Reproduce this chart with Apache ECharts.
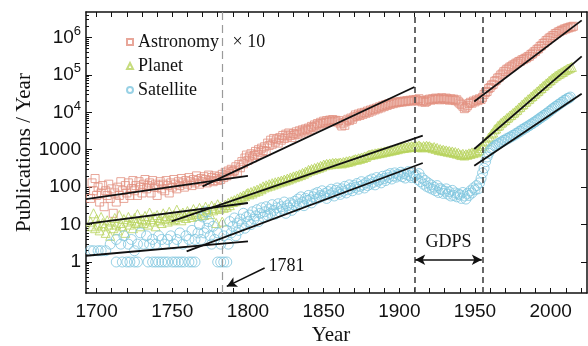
<!DOCTYPE html>
<html>
<head>
<meta charset="utf-8">
<script src="https://cdn.jsdelivr.net/npm/echarts@6/dist/echarts.min.js"></script>
<style>
  html, body { margin: 0; padding: 0; background: #fff; }
  #chart { width: 588px; height: 346px; }
</style>
</head>
<body>
<div id="chart"></div>
<script>
// yearly counts (Astronomy already multiplied by 10)
const astroStart = 1696;
const astroValues = [
  50, 130, 80, 170, 60, 100, 40, 70, 110, 30,
  80, 60, 120, 50, 90, 20, 70, 40, 100, 60,
  140, 80, 50, 110, 70, 130, 60, 90, 150, 80,
  110, 60, 140, 100, 70, 120, 160, 90, 110, 130,
  70, 150, 100, 120, 60, 110, 140, 90, 120, 80,
  150, 110, 70, 130, 100, 160, 120, 90, 140, 110,
  170, 130, 100, 150, 120, 180, 140, 110, 160, 130,
  200, 150, 120, 170, 140, 190, 160, 130, 210, 150,
  180, 140, 200, 170, 150, 190, 160, 220, 180, 250,
  200, 270, 230, 300, 260, 280, 350, 250, 400, 330,
  480, 420, 600, 720, 520, 650, 780, 600, 700, 900,
  750, 1000, 850, 1100, 950, 1200, 900, 1500, 1300, 1800,
  1400, 2000, 1600, 1900, 1500, 2100, 1800, 2400, 2000, 2600,
  2200, 2800, 2400, 2100, 2700, 2500, 3000, 2600, 3200, 2800,
  3400, 3000, 3600, 3300, 3800, 3500, 4200, 3900, 4600, 4300,
  5000, 4600, 5400, 5000, 5800, 5300, 6000, 5500, 6200, 5600,
  6400, 5800, 6100, 5500, 6000, 4900, 4300, 5200, 4500, 5800,
  6500, 6000, 7000, 6500, 7500, 8500, 7800, 9000, 8200, 9600,
  8800, 10000, 9400, 10800, 10000, 11500, 10800, 12200, 11600, 13000,
  12400, 14000, 13200, 15000, 14200, 16000, 15200, 17000, 16200, 18000,
  17000, 18500, 17800, 19000, 18500, 19500, 18800, 20000, 19200, 20500,
  19800, 21000, 20000, 21500, 20500, 22000, 20000, 23000, 21000, 19000,
  20500, 18500, 19500, 21500, 22500, 21000, 23000, 22000, 24000, 22500,
  23500, 21500, 24500, 23000, 22000, 24000, 22500, 21000, 23000, 21500,
  22500, 20500, 21500, 19000, 17500, 16000, 14500, 12500, 13500, 15000,
  17000, 18500, 17500, 20000, 19000, 21500, 20500, 23000, 22000, 25000,
  30000, 34000, 36000, 43000, 46000, 53000, 56000, 67000, 71000, 82000,
  86000, 99000, 106000, 121000, 126000, 141000, 145000, 161000, 165000, 182000,
  186000, 205000, 208000, 228000, 230000, 252000, 255000, 276000, 282000, 306000,
  315000, 352000, 365000, 410000, 425000, 480000, 500000, 575000, 600000, 685000,
  715000, 820000, 850000, 960000, 990000, 1100000, 1130000, 1260000, 1280000, 1400000,
  1430000, 1550000, 1560000, 1680000, 1690000, 1790000, 1800000, 1900000, 1900000, 1990000
];

const planetStart = 1696;
const planetValues = [
  12, 9, 20, 8, 14, 10, 7, 16, 11, 9,
  6, 13, 10, 5, 12, 8, 15, 10, 7, 18,
  11, 9, 14, 6, 12, 16, 10, 13, 8, 15,
  11, 19, 12, 9, 14, 11, 17, 13, 10, 21,
  14, 12, 16, 9, 18, 13, 15, 11, 20, 14,
  17, 12, 22, 15, 13, 18, 14, 25, 16, 19,
  13, 21, 17, 15, 23, 18, 20, 16, 26, 19,
  22, 17, 28, 20, 24, 18, 30, 22, 26, 19,
  32, 24, 28, 11, 35, 26, 30, 12, 28, 34,
  30, 38, 33, 42, 40, 45, 42, 50, 46, 55,
  52, 60, 57, 66, 70, 64, 74, 68, 80, 75,
  86, 80, 94, 88, 105, 98, 112, 104, 120, 110,
  128, 118, 135, 125, 142, 134, 150, 142, 160, 150,
  170, 160, 182, 172, 194, 185, 205, 196, 220, 210,
  240, 228, 260, 250, 290, 275, 305, 290, 325, 310,
  345, 330, 370, 355, 400, 385, 420, 400, 430, 410,
  445, 425, 450, 430, 440, 455, 430, 470, 450, 490,
  470, 510, 490, 520, 540, 560, 540, 590, 570, 620,
  600, 660, 640, 700, 740, 720, 770, 750, 800, 780,
  830, 810, 860, 840, 900, 880, 930, 910, 970, 950,
  1010, 990, 1050, 1030, 1120, 1080, 1150, 1110, 1180, 1140,
  1210, 1170, 1240, 1200, 1230, 1260, 1180, 1300, 1220, 1150,
  1250, 1190, 1280, 1210, 1240, 1150, 1100, 1180, 1050, 1120,
  980, 1040, 950, 1000, 920, 960, 880, 930, 850, 900,
  820, 870, 780, 830, 750, 720, 780, 700, 760, 730,
  800, 770, 850, 810, 880, 850, 930, 980, 1100, 1250,
  1400, 1650, 1750, 2100, 2250, 2700, 2900, 3500, 3700, 4300,
  4500, 5100, 5400, 6000, 6200, 7000, 7300, 8200, 8500, 9500,
  9900, 11200, 11700, 13400, 14000, 15900, 16500, 18800, 19500, 22200,
  23000, 26000, 27200, 30500, 32000, 36000, 37700, 42800, 44500, 50300,
  52500, 59000, 61500, 69500, 72500, 81000, 84500, 93000, 96500, 105000,
  108000, 117000, 120000, 131000, 135000, 146000, 148000, 157000, 163000
];

const satStart = 1696;
const satValues = [
  2, null, 2, null, null, 2, null, 2, null, null,
  2, null, null, 3, null, null, null, 1, null, null,
  null, 1, null, null, 1, null, 1, null, null, 1,
  null, 1, null, null, null, 3, null, null, 1, null,
  null, 1, null, 1, null, 1, null, 1, null, 1,
  null, 1, null, null, 1, null, 1, null, 1, null,
  1, null, 1, null, null, 1, null, 1, null, 1,
  null, 6, 10, 4, 16, 6, 22, 8, 12, 5,
  3, 9, 4, null, 1, null, 1, null, 1, null,
  1, 3, 12, 6, 9, 15, 5, 11, 7, 14,
  10, 20, 8, 16, 12, 18, 10, 22, 14, 17,
  25, 12, 20, 28, 16, 22, 30, 18, 26, 20,
  34, 24, 19, 28, 36, 22, 30, 26, 40, 20,
  32, 28, 38, 24, 34, 42, 30, 48, 36, 55,
  40, 32, 50, 44, 60, 46, 38, 55, 66, 48,
  72, 52, 60, 80, 58, 68, 50, 76, 62, 88,
  70, 58, 82, 95, 72, 64, 90, 78, 105, 70,
  85, 115, 92, 80, 110, 98, 125, 88, 105, 140,
  115, 95, 130, 110, 150, 120, 165, 135, 115, 180,
  145, 160, 130, 195, 170, 150, 210, 180, 230, 165,
  200, 240, 185, 220, 205, 250, 190, 230, 175, 215,
  260, 200, 180, 235, 195, 210, 160, 230, 140, 175,
  120, 150, 105, 130, 95, 115, 88, 100, 80, 110,
  72, 92, 85, 68, 78, 90, 65, 75, 58, 82,
  60, 70, 55, 66, 62, 50, 72, 58, 48, 68,
  60, 80, 70, 95, 85, 110, 90, 130, 170, 240,
  320, 480, 640, 800, 950, 1080, 1130, 1280, 1300, 1440,
  1460, 1600, 1620, 1790, 1800, 1980, 2000, 2180, 2200, 2420,
  2450, 2700, 2750, 3050, 3100, 3450, 3500, 3850, 3900, 4300,
  4400, 4850, 4950, 5450, 5600, 6200, 6400, 7100, 7300, 8100,
  8300, 9200, 9500, 10600, 11000, 12300, 12700, 14100, 14500, 16100,
  16600, 18300, 18900, 20900, 21400, 23400, 23800, 25500
];
// extra satellite points above the row at 1
const satExtraYears = [1713, 1716, 1718, 1721, 1723, 1725, 1727, 1729, 1733, 1735, 1737, 1739, 1741,
  1743, 1745, 1747, 1749, 1751, 1753, 1755, 1757, 1759, 1761, 1763, 1765, 1780, 1782, 1784, 1786];
const satExtraValues = [4, 3, 5, 3, 4, 2, 3, 6, 5, 3, 4, 3, 5,
  4, 3, 4, 5, 3, 4, 6, 3, 5, 4, 7, 4, 6, 3, 5, 7];

// fitted segments (start/end year and value)
const astroFitYears = [[1693, 1800], [1770, 1910], [1949.5, 2020.5]];
const astroFitValues = [[48, 200], [105, 47300], [19500, 2850000]];
const planetFitYears = [[1693, 1800], [1749.5, 1915.5], [1949.5, 2020.5]];
const planetFitValues = [[10.5, 37.7], [12.2, 2370], [1045, 311000]];
const satFitYears = [[1693, 1800], [1759.5, 1915.5], [1949.5, 2020.5]];
const satFitValues = [[1.47, 3.55], [1.92, 442], [374, 31400]];

const xLabelValues = [1700, 1750, 1800, 1850, 1900, 1950, 2000];
const xTickValues = [1700, 1710, 1720, 1730, 1740, 1750, 1760, 1770, 1780, 1790, 1800, 1810, 1820,
  1830, 1840, 1850, 1860, 1870, 1880, 1890, 1900, 1910, 1920, 1930, 1940, 1950, 1960, 1970, 1980,
  1990, 2000, 2010, 2020];
const yLabelValues = [1, 10, 100, 1000, 1e4, 1e5, 1e6];

const ASTRO = '#E2907F';
const PLANET = '#B8D35C';
const SAT = '#7EC6DE';
const SERIF = 'Liberation Serif';
const SANS = 'Liberation Sans';

// minor ticks of the log axis: 2..9 times each decade
let yMinorTicks = [];
for (let e = -1; e <= 6; e++) {
  for (let d = 2; d <= 9; d++) {
    yMinorTicks.push(d * Math.pow(10, e));
  }
}

function toPairs(start, values) {
  let out = [];
  values.forEach(function (v, i) {
    if (v != null) out.push([start + i, v]);
  });
  return out;
}

function fitSeries(years, values) {
  return years.map(function (ys, i) {
    return {
      type: 'line',
      data: [[ys[0], values[i][0]], [ys[1], values[i][1]]],
      symbol: 'none',
      lineStyle: { color: '#111', width: 1.8 },
      z: 5,
      silent: true
    };
  });
}

function yLabel(v) {
  const e = Math.round(Math.log10(v));
  if (e <= 3) return String(Math.round(Math.pow(10, e)));
  return '10{sup|' + e + '}';
}

const myChart = echarts.init(document.getElementById('chart'));

let series = [
  {
    name: 'Astronomy   × 10',
    type: 'scatter',
    symbol: 'rect',
    symbolSize: 8,
    itemStyle: { color: 'transparent', borderColor: ASTRO, borderWidth: 1 },
    data: toPairs(astroStart, astroValues),
    z: 2
  },
  {
    name: 'Planet',
    type: 'scatter',
    symbol: 'triangle',
    symbolSize: 9,
    itemStyle: { color: 'transparent', borderColor: PLANET, borderWidth: 1 },
    data: toPairs(planetStart, planetValues),
    z: 2
  },
  {
    name: 'Satellite',
    type: 'scatter',
    symbol: 'circle',
    symbolSize: 10,
    itemStyle: { color: 'transparent', borderColor: SAT, borderWidth: 1 },
    data: toPairs(satStart, satValues).concat(satExtraYears.map(function (y, i) { return [y, satExtraValues[i]]; })),
    z: 2
  }
];

series = series
  .concat(fitSeries(astroFitYears, astroFitValues))
  .concat(fitSeries(planetFitYears, planetFitValues))
  .concat(fitSeries(satFitYears, satFitValues));

// dashed year markers, GDPS span and the 1781 pointer
series.push({
  type: 'line',
  data: [],
  silent: true,
  z: 4,
  markLine: {
    silent: true,
    symbol: 'none',
    label: { show: false },
    data: [
      { xAxis: 1783, lineStyle: { color: '#9a9a9a', type: [8, 5], width: 1.2 } },
      { xAxis: 1910, lineStyle: { color: '#444', type: [6, 4], width: 1.6 } },
      { xAxis: 1955, lineStyle: { color: '#444', type: [6, 4], width: 1.6 } }
    ]
  }
});
series.push({
  type: 'line',
  data: [],
  silent: true,
  z: 4,
  markLine: {
    silent: true,
    symbol: ['arrow', 'arrow'],
    symbolSize: [8, 10],
    lineStyle: { color: '#111', type: 'solid', width: 1.5 },
    label: {
      show: true, position: 'middle', formatter: 'GDPS', distance: 8,
      fontFamily: SERIF, fontSize: 18, color: '#111'
    },
    data: [[{ coord: [1910.5, 1.15] }, { coord: [1954.5, 1.15] }]]
  }
});
series.push({
  type: 'line',
  data: [],
  silent: true,
  z: 4,
  markLine: {
    silent: true,
    symbol: ['none', 'arrow'],
    symbolSize: [8, 10],
    lineStyle: { color: '#111', type: 'solid', width: 1.5 },
    label: { show: false },
    data: [[{ coord: [1811, 0.69] }, { coord: [1786, 0.223] }]]
  },
  markPoint: {
    silent: true,
    symbol: 'circle',
    symbolSize: 0,
    label: {
      show: true, position: 'inside', formatter: '1781',
      fontFamily: SERIF, fontSize: 18, color: '#111'
    },
    data: [{ coord: [1825.5, 0.76] }]
  }
});

const option = {
  animation: false,
  backgroundColor: '#fff',
  grid: { left: 86, right: 1, top: 12, bottom: 53, outerBoundsMode: 'none', containLabel: false },
  legend: {
    data: ['Astronomy   × 10', 'Planet', 'Satellite'],
    orient: 'vertical',
    left: 121,
    top: 28,
    itemWidth: 6,
    itemHeight: 6,
    itemGap: 6,
    textStyle: { fontFamily: SERIF, fontSize: 18, color: '#111' }
  },
  xAxis: [
    {
      type: 'value',
      min: 1693,
      max: 2024,
      name: 'Year',
      nameLocation: 'middle',
      nameGap: 32,
      nameMoveOverlap: false,
      nameTextStyle: { fontFamily: SERIF, fontSize: 21, color: '#111', padding: [0, 11, 0, 0] },
      axisLine: { show: true, lineStyle: { color: '#111', width: 1.5 } },
      axisTick: { show: true, inside: true, length: 5, customValues: xTickValues, lineStyle: { color: '#111', width: 1 } },
      axisLabel: {
        customValues: xLabelValues,
        formatter: function (v) { return String(v); },
        fontFamily: SANS, fontSize: 19, color: '#111', margin: 9
      },
      splitLine: { show: false }
    },
    {
      type: 'value',
      position: 'top',
      min: 1693,
      max: 2024,
      axisLine: { show: true, lineStyle: { color: '#111', width: 1.5 } },
      axisTick: { show: true, inside: true, length: 5, customValues: xTickValues, lineStyle: { color: '#111', width: 1 } },
      axisLabel: { show: false },
      splitLine: { show: false }
    }
  ],
  yAxis: [
    {
      type: 'log',
      min: 0.1485,
      max: 4.78e6,
      name: 'Publications / Year',
      nameLocation: 'middle',
      nameGap: 51,
      nameMoveOverlap: false,
      nameTextStyle: { fontFamily: SERIF, fontSize: 21, color: '#111' },
      axisLine: { show: true, lineStyle: { color: '#111', width: 1.5 } },
      axisTick: { show: true, inside: true, length: 6, customValues: yLabelValues, lineStyle: { color: '#111', width: 1 } },
      axisLabel: {
        customValues: yLabelValues,
        formatter: yLabel,
        fontFamily: SANS, fontSize: 19, color: '#111', margin: 5,
        rich: { sup: { fontFamily: SANS, fontSize: 13, color: '#111', padding: [0, 0, 12, 0] } }
      },
      splitLine: { show: false }
    },
    {
      type: 'log',
      min: 0.1485,
      max: 4.78e6,
      position: 'left',
      axisLine: { show: false },
      axisTick: { show: true, inside: true, length: 3, customValues: yMinorTicks, lineStyle: { color: '#111', width: 1 } },
      axisLabel: { show: false },
      splitLine: { show: false }
    },
    {
      type: 'log',
      min: 0.1485,
      max: 4.78e6,
      position: 'right',
      axisLine: { show: true, lineStyle: { color: '#111', width: 1.5 } },
      axisTick: { show: true, inside: true, length: 6, customValues: yLabelValues, lineStyle: { color: '#111', width: 1 } },
      axisLabel: { show: false },
      splitLine: { show: false }
    }
  ],
  series: series
};

myChart.setOption(option);
</script>
</body>
</html>
